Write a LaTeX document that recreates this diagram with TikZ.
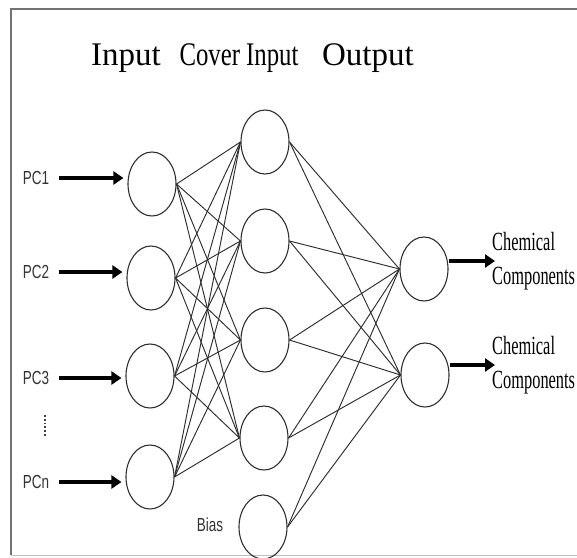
\documentclass[tikz,border=0pt]{standalone}
\usepackage{fontspec}
\usepackage{graphicx}
\usepackage{tikz}
\usetikzlibrary{shapes.geometric,arrows.meta}
\usetikzlibrary{positioning}
\setmainfont{Liberation Serif}
\setsansfont{Liberation Sans}
\definecolor{framegray}{rgb}{0.45,0.45,0.45}
\definecolor{linegray}{rgb}{0.18,0.18,0.18}

\begin{document}
\begin{tikzpicture}[x=1pt,y=-1pt,
    neuron/.style={draw=linegray,line width=1.1pt,ellipse,minimum width=48pt,minimum height=64pt,inner sep=0pt},
    wire/.style={linegray,line width=0.95pt},
    arr/.style={-{Triangle[length=10pt,width=13pt]},line width=3.2pt,black},
    pclab/.style={font=\sffamily\fontsize{13.5}{15}\selectfont,text=black!80,inner sep=0pt,anchor=center},
    title/.style={font=\fontsize{33}{38}\selectfont,anchor=base},
    chem/.style={font=\fontsize{16.4}{21}\selectfont,anchor=west,inner sep=0pt}]
            \useasboundingbox (0,0) rectangle (577,557);
            \draw[framegray,line width=1.8pt] (580,9) -- (11,9) -- (11,555);
            \draw[black!25,line width=1pt] (11,555) -- (580,555);

            \node[title] (tin) at (126,65) {Input};
            \node[title] (tcov) at (239,65) {\scalebox{0.75}[1]{Cover Input}};
            \node[title] (tout) at (368,65) {Output};

            % input layer
            \node[neuron] (in1) at (152,184) {};
            \node[neuron] (in2) at (151,278) {};
            \node[neuron] (in3) at (150,376) {};
            \node[neuron] (in4) at (150,477) {};
            % cover input layer
            \node[neuron] (h1) at (265,142) {};
            \node[neuron] (h2) at (265,241) {};
            \node[neuron] (h3) at (265,340) {};
            \node[neuron] (h4) at (264,438) {};
            \node[neuron] (h5) at (263,527) {};
            % output layer
            \node[neuron] (o1) at (424,269) {};
            \node[neuron] (o2) at (425,375) {};

            \node[pclab] (pc1) at (36,178) {\scalebox{1}[1.4]{PC1}};
            \node[pclab] (pc2) at (36,272) {\scalebox{1}[1.4]{PC2}};
            \node[pclab] (pc3) at (36,378) {\scalebox{1}[1.4]{PC3}};
            \node[pclab] (pcn) at (36,482) {\scalebox{1}[1.4]{PCn}};
            \node[pclab] (bias) at (210,525) {\scalebox{1}[1.4]{Bias}};
            \draw[black!75,line width=1.8pt,dotted] (45,415) -- (45,436);

            \node[chem] (c1) at (492,261) {\scalebox{1}[1.6]{\begin{tabular}{@{}l@{}}Chemical\\Components\end{tabular}}};
            \node[chem] (c2) at (492,365) {\scalebox{1}[1.6]{\begin{tabular}{@{}l@{}}Chemical\\Components\end{tabular}}};

            \foreach \i in {in1,in2,in3,in4}
                \foreach \j in {h1,h2,h3,h4}
                    \draw[wire] (\i.east) -- (\j.west);
            \foreach \j in {h1,h2,h3,h4,h5}
                \foreach \k in {o1,o2}
                    \draw[wire] (\j.east) -- (\k.west);

            \draw[arr,shorten <=10pt,shorten >=4pt] (pc1) -- (pc1 -| in1.west);
            \draw[arr,shorten <=10pt,shorten >=4pt] (pc2) -- (pc2 -| in2.west);
            \draw[arr,shorten <=10pt,shorten >=4pt] (pc3) -- (pc3 -| in3.west);
            \draw[arr,shorten <=10pt,shorten >=4pt] (pcn) -- (pcn -| in4.west);
            \draw[arr,shorten >=-3pt] (o1.east |- c1.west) -- (c1.west);
            \draw[arr,shorten >=-3pt] (o2.east |- c2.west) -- (c2.west);
\end{tikzpicture}
\end{document}
